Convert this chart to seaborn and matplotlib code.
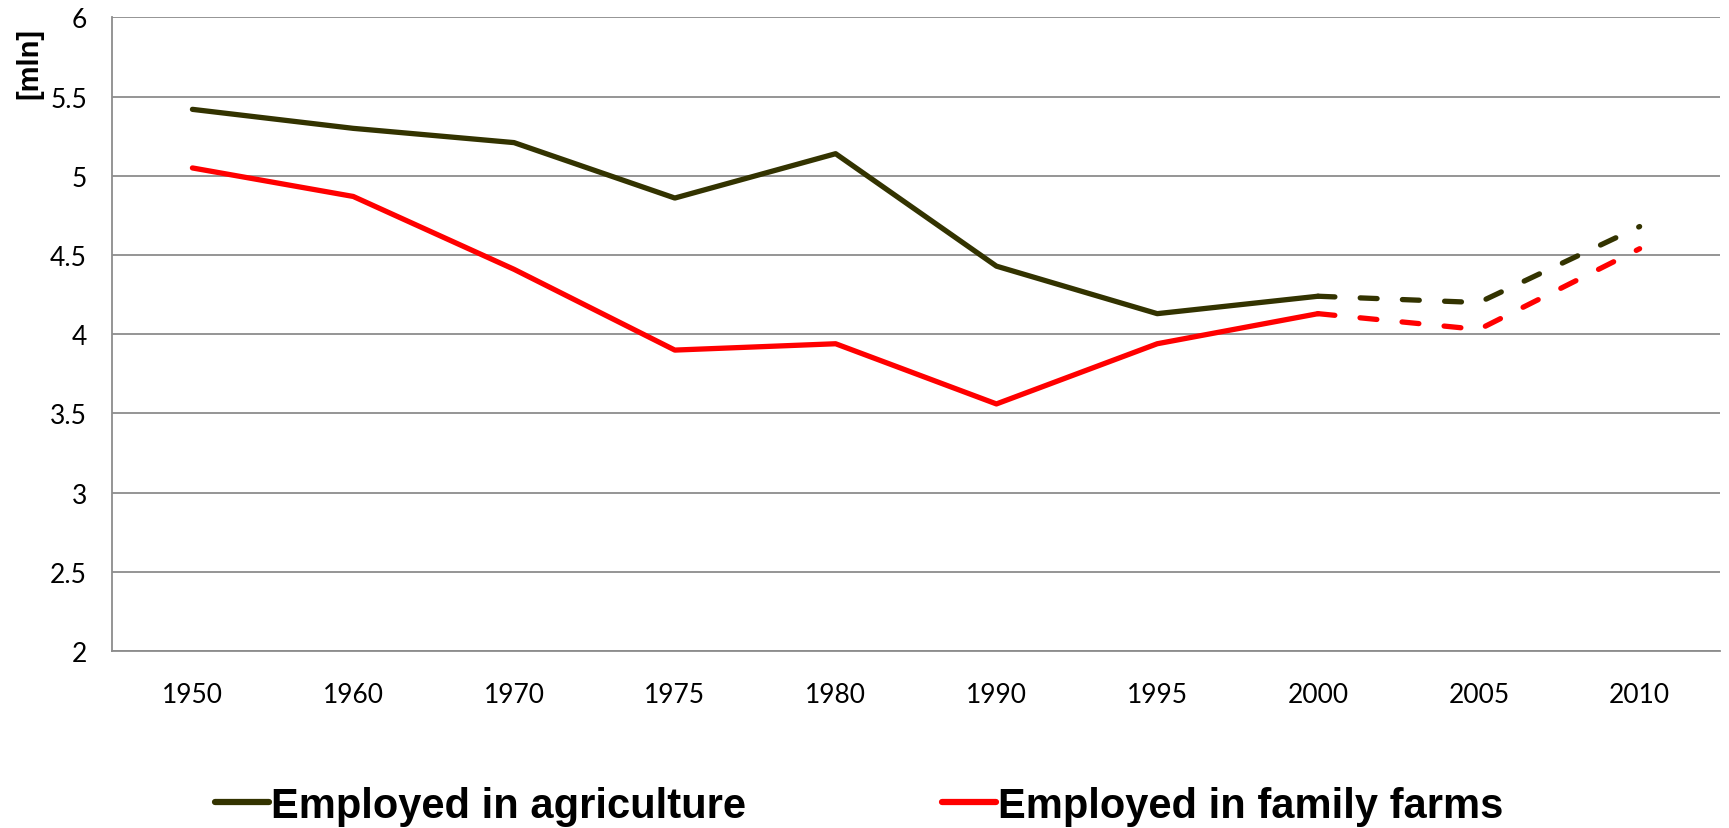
import pandas as pd
import matplotlib.pyplot as plt
import seaborn as sns
from matplotlib.ticker import FixedLocator

# data
years = ["1950", "1960", "1970", "1975", "1980", "1990", "1995", "2000", "2005", "2010"]
agriculture = [5.42, 5.30, 5.21, 4.86, 5.14, 4.43, 4.13, 4.24, 4.20, 4.68]
family_farms = [5.05, 4.87, 4.41, 3.90, 3.94, 3.56, 3.94, 4.13, 4.03, 4.54]
labels = ["Employed in agriculture", "Employed in family farms"]
colors = ["#333300", "#ff0000"]
split = 7  # estimated values after 2000 are dashed

sns.set_style("white")
plt.rcParams['font.family'] = ['Lato', 'DejaVu Sans']
plt.rcParams['text.color'] = 'black'
plt.rcParams['xtick.color'] = 'black'
plt.rcParams['ytick.color'] = 'black'

df = pd.DataFrame({"pos": range(len(years)), "year": years,
                   labels[0]: agriculture, labels[1]: family_farms})

fig = plt.figure(figsize=(17.29, 8.29), dpi=100)
ax = fig.add_axes([0.0648, 0.2135, 0.930, 0.7642])

handles = []
for lab, col in zip(labels, colors):
    solid = df[df["pos"] <= split]
    dashed = df[df["pos"] >= split]
    sns.lineplot(data=solid, x="pos", y=lab, ax=ax, color=col, lw=3.8,
                 solid_capstyle='round')
    sns.lineplot(data=dashed, x="pos", y=lab, ax=ax, color=col, lw=3.8,
                 linestyle=(0, (3.2, 4.8)), dash_capstyle='round')
    handles.append(plt.Line2D([], [], color=col, lw=4.5, solid_capstyle='round'))

# axes styling (excel-like)
ax.set_xlim(-0.5, len(years) - 0.5)
ax.set_ylim(2, 6)
ax.set_yticks([2, 2.5, 3, 3.5, 4, 4.5, 5, 5.5, 6])
ax.set_yticklabels(["2", "2.5", "3", "3.5", "4", "4.5", "5", "5.5", "6"])
ax.set_xticks(range(len(years)))
ax.set_xticklabels(years)
ax.xaxis.set_minor_locator(FixedLocator([i - 0.5 for i in range(len(years) + 1)]))
ax.tick_params(axis='x', which='major', length=0, pad=22, labelsize=19)
ax.tick_params(axis='x', which='minor', length=7, width=1.3, color='#8c8c8c')
ax.tick_params(axis='y', length=7, width=1.3, color='#8c8c8c', pad=11, labelsize=19)
ax.grid(axis='y', color='#8c8c8c', lw=1.3)
ax.set_axisbelow(True)
for s in ['top', 'right']:
    ax.spines[s].set_visible(False)
for s in ['left', 'bottom']:
    ax.spines[s].set_color('#8c8c8c')
    ax.spines[s].set_linewidth(1.3)
ax.set_xlabel("")
ax.set_ylabel("")

fig.text(0.0168, 0.923, "[mln]", rotation=90, ha='center', va='center',
         fontsize=21, fontweight='bold', family=['Liberation Sans', 'DejaVu Sans'])

fig.legend(handles, labels, loc='center', bbox_to_anchor=(0.497, 0.027), ncol=2,
           frameon=False, handlelength=1.3, handletextpad=0.05, columnspacing=4.7,
           prop={'family': 'Liberation Sans', 'weight': 'bold', 'size': 30})

plt.savefig("out.png", dpi=100)
plt.close()
